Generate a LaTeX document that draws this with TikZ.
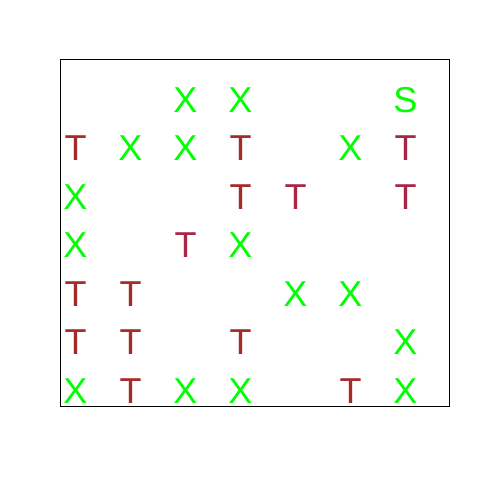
\documentclass[tikz,border=0pt]{standalone}
\usepackage{fontspec}
\setmainfont{Liberation Sans}
\definecolor{xgreen}{HTML}{00FF00}
\definecolor{tbrown}{HTML}{A52A2A}
\definecolor{tmaroon}{HTML}{A82448}
\tikzset{
  cell/.style={inner sep=0pt, anchor=base, font=\fontsize{36}{36}\selectfont},
  xm/.style={cell, text=xgreen},
  tm/.style={cell, text=tbrown},
  tr/.style={cell, text=tmaroon},
  sm/.style={cell, text=xgreen},
}
\begin{document}
\begin{tikzpicture}[x=1pt,y=-1pt]
\useasboundingbox (0,0) rectangle (480,480);
\fill[white] (0,0) rectangle (480,480);
\draw[black, line width=1pt] (60,59) rectangle (449,406);
% columns: 75.5 + 55k ; baseline = row centre + 12.9
% row 1 (99.5)
\node[xm] (r1c3) at (185.5,112.4) {X};
\node[xm] (r1c4) at (240.5,112.4) {X};
\node[sm] (r1c7) at (405.5,112.4) {S};
% row 2 (148)
\node[tm] (r2c1) at (75.5,160.9) {T};
\node[xm] (r2c2) at (130.5,160.9) {X};
\node[xm] (r2c3) at (185.5,160.9) {X};
\node[tm] (r2c4) at (240.5,160.9) {T};
\node[xm] (r2c6) at (350.5,160.9) {X};
\node[tr] (r2c7) at (405.5,160.9) {T};
% row 3 (196.5)
\node[xm] (r3c1) at (75.5,209.4) {X};
\node[tm] (r3c4) at (240.5,209.4) {T};
\node[tr] (r3c5) at (295.5,209.4) {T};
\node[tr] (r3c7) at (405.5,209.4) {T};
% row 4 (245)
\node[xm] (r4c1) at (75.5,257.9) {X};
\node[tr] (r4c3) at (185.5,257.9) {T};
\node[xm] (r4c4) at (240.5,257.9) {X};
% row 5 (293.5)
\node[tm] (r5c1) at (75.5,306.4) {T};
\node[tm] (r5c2) at (130.5,306.4) {T};
\node[xm] (r5c5) at (295.5,306.4) {X};
\node[xm] (r5c6) at (350.5,306.4) {X};
% row 6 (342)
\node[tm] (r6c1) at (75.5,354.9) {T};
\node[tm] (r6c2) at (130.5,354.9) {T};
\node[tm] (r6c4) at (240.5,354.9) {T};
\node[xm] (r6c7) at (405.5,354.9) {X};
% row 7 (390.5)
\node[xm] (r7c1) at (75.5,403.4) {X};
\node[tm] (r7c2) at (130.5,403.4) {T};
\node[xm] (r7c3) at (185.5,403.4) {X};
\node[xm] (r7c4) at (240.5,403.4) {X};
\node[tm] (r7c6) at (350.5,403.4) {T};
\node[xm] (r7c7) at (405.5,403.4) {X};
\end{tikzpicture}
\end{document}
